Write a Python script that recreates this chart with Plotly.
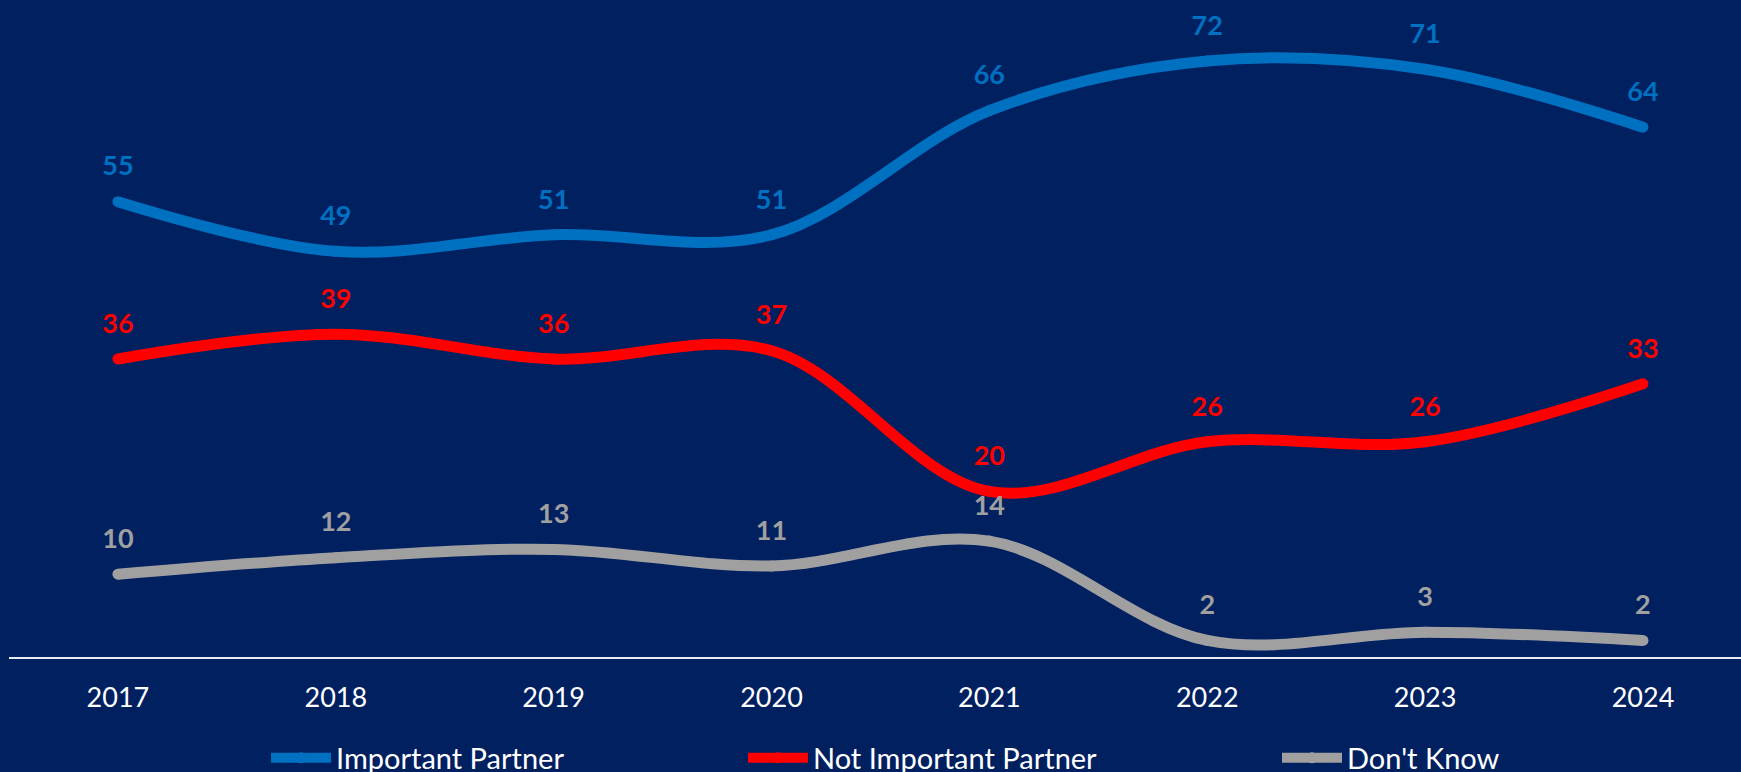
import plotly.graph_objects as go

years = ["2017", "2018", "2019", "2020", "2021", "2022", "2023", "2024"]
important = [55, 49, 51, 51, 66, 72, 71, 64]
not_important = [36, 39, 36, 37, 20, 26, 26, 33]
dont_know = [10, 12, 13, 11, 14, 2, 3, 2]

series = [
    ("Important Partner", important, "#0070C0", "legend2"),
    ("Not Important Partner", not_important, "#FF0000", "legend3"),
    ("Don't Know", dont_know, "#A0A0A0", "legend4"),
]

BG = "#002060"
FONT = "Lato"
W, H = 1741, 790          # taller than the window: legend gets cut at the bottom like the original
ML, MR, MT, MB = 9, 0, 3, 133
Y_MAX = 79
LABEL_SHIFT = 33          # px, data labels sit above the points

plot_w = W - ML - MR
plot_h = H - MT - MB
shift = LABEL_SHIFT * Y_MAX / plot_h

fig = go.Figure()
for name, vals, color, leg in series:
    fig.add_trace(go.Scatter(
        x=years, y=vals, name=name, legend=leg,
        mode="lines+markers",
        line=dict(color=color, width=11, shape="spline", smoothing=1),
        marker=dict(color=color, size=11),
        hoverinfo="skip",
    ))
    # labels on a shifted copy of the y axis
    fig.add_trace(go.Scatter(
        x=years, y=vals, yaxis="y2", mode="text",
        text=["<b>%d</b>" % v for v in vals], textposition="middle center",
        textfont=dict(family=FONT, size=27, color=color),
        showlegend=False, hoverinfo="skip",
    ))

def px_to_paper(px):
    return (px - ML) / plot_w

leg_y = -(758 - (MT + plot_h)) / plot_h
leg_common = dict(orientation="h", yanchor="middle", y=leg_y, xanchor="left",
                  bgcolor="rgba(0,0,0,0)", itemwidth=60,
                  font=dict(family=FONT, size=29, color="white"))
fig.update_layout(
    width=W, height=H,
    margin=dict(l=ML, r=MR, t=MT, b=MB),
    paper_bgcolor=BG, plot_bgcolor=BG,
    legend2=dict(x=px_to_paper(266), **leg_common),
    legend3=dict(x=px_to_paper(743), **leg_common),
    legend4=dict(x=px_to_paper(1277), **leg_common),
    xaxis=dict(type="category", range=[-0.5, 7.45], showgrid=False, zeroline=False,
               showline=True, linecolor="#E8ECF4", linewidth=2, ticks="",
               ticklabelstandoff=16,
               tickfont=dict(family=FONT, size=27, color="white")),
    yaxis=dict(range=[0, Y_MAX], visible=False, showgrid=False, zeroline=False),
    yaxis2=dict(range=[-shift, Y_MAX - shift], overlaying="y", visible=False,
                showgrid=False, zeroline=False),
)

fig.write_html("out.html", config={"displayModeBar": False},
               post_script="document.body.style.margin='0';document.body.style.overflow='hidden';")
